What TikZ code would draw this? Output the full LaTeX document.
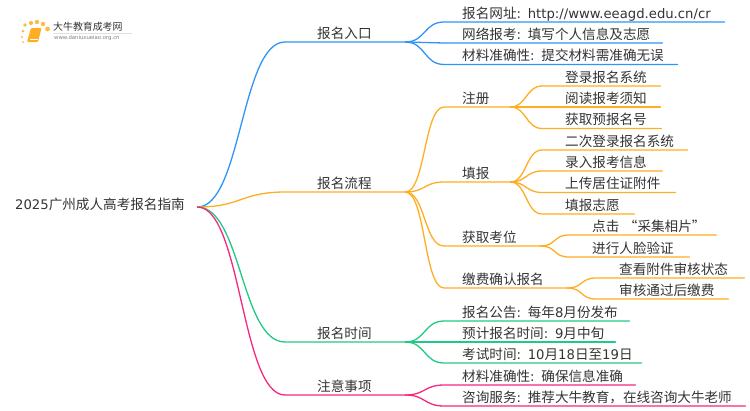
\documentclass[tikz,border=0pt]{standalone}
\usepackage{fontspec}
\setmainfont[Scale=0.97]{DejaVu Sans}
\newfontfamily\cjk{Noto Sans CJK SC}
\newcommand{\lat}[1]{{\rmfamily\spaceskip=0.2em #1}}
\definecolor{bluel}{HTML}{2E95F7}
\definecolor{orangel}{HTML}{FFAE22}
\definecolor{greenl}{HTML}{22C985}
\definecolor{pinkl}{HTML}{F5287F}
\definecolor{inkc}{HTML}{333333}
\tikzset{
    item/.style={anchor=south west, inner sep=0pt, text=inkc, align=left,
        text height=11pt, text depth=3.4pt, font=\cjk\fontsize{13.6}{15}\selectfont},
    branch/.style={line width=1.3pt, line cap=round}
}
\begin{document}
\begin{tikzpicture}[x=1pt, y=-1pt]
    \useasboundingbox (0,0) rectangle (750,410);
    % logo
    \foreach \x/\y/\r in {25/25/1.9, 31/23/2.1, 37/22/2.2, 43/24/2.2, 47.5/29/2.4, 23/31/1.5, 22/37/1.2, 23/42/1}
        \fill[orangel!85] (\x,\y) circle (\r);
    \fill[orangel, rounded corners=1pt] (31,28) -- (41.5,28) -- (38,42) -- (27,42) -- cycle;
    \draw[white, line width=0.5pt] (30,39.5) -- (38,39.5);
    \node[anchor=west, inner sep=0pt, text=inkc, font=\cjk\fontsize{9.9}{11}\selectfont] (logoname) at (53,27) {大牛教育成考网};
    \node[anchor=west, inner sep=0pt, text=gray, font=\fontsize{5.5}{6}\selectfont] (logourl) at (54,38.5) {www.daniuxueiao.org.cn};
    \draw[black!12, line width=0.4pt] (53,33.5) -- (132,33.5);
    % root
    \node[item, anchor=west, text width=182pt] (root) at (15,206) {\lat{2025}广州成人高考报名指南};
    % first level
    \node[item, text width=88pt] (entry) at (317,42) {报名入口};
    \node[item, text width=88pt] (steps) at (317,192) {报名流程};
    \node[item, text width=88pt] (dates) at (317,342) {报名时间};
    \node[item, text width=88pt] (notes) at (317,395) {注意事项};
    \foreach \n/\c in {entry/bluel, steps/orangel, dates/greenl, notes/pinkl}
        \draw[branch, \c] ([yshift=-1pt]root.east) .. controls +(44,0) and +(-44,0) .. ([xshift=-32pt]\n.south west) -- (\n.south east);
    % second level
    \foreach \p/\c/\n/\x/\y/\e/\g/\t in {
        entry/bluel/a1/462/22/724/18/{报名网址\lat{: http://www.eeagd.edu.cn/cr}},
        entry/bluel/a2/462/43/662/18/{网络报考\lat{: }填写个人信息及志愿},
        entry/bluel/a3/462/64.5/677/18/{材料准确性\lat{: }提交材料需准确无误},
        steps/orangel/b1/462/107/510/18/注册,
        steps/orangel/b2/462/182/510/18/填报,
        steps/orangel/b3/462/246/540/18/获取考位,
        steps/orangel/b4/462/288/567/18/缴费确认报名,
        b1/orangel/c1/565/86/660/23/登录报名系统,
        b1/orangel/c2/565/107/660/23/阅读报考须知,
        b1/orangel/c3/565/128.5/661/23/获取预报名号,
        b2/orangel/d1/565/150/687/23/二次登录报名系统,
        b2/orangel/d2/565/171/662/23/录入报考信息,
        b2/orangel/d3/565/192.5/675/23/上传居住证附件,
        b2/orangel/d4/565/214/634/23/填报志愿,
        b3/orangel/e1/592/235/716/23/{点击 “采集相片”},
        b3/orangel/e2/592/257/689/23/进行人脸验证,
        b4/orangel/f1/619/278/744/23/查看附件审核状态,
        b4/orangel/f2/619/299/728/23/审核通过后缴费,
        dates/greenl/g1/462/321/629/18/{报名公告\lat{: }每年\lat{8}月份发布},
        dates/greenl/g2/462/342/615/18/{预计报名时间\lat{: 9}月中旬},
        dates/greenl/g3/462/363/641/18/{考试时间\lat{: 10}月\lat{18}日至\lat{19}日},
        notes/pinkl/h1/462/385/635/18/{材料准确性\lat{: }确保信息准确},
        notes/pinkl/h2/462/406/745/18/{咨询服务\lat{: }推荐大牛教育，在线咨询大牛老师}}
    {
        \pgfmathsetmacro\w{\e-\x}
        \pgfmathsetmacro\k{\g>20 ? 16 : 20}
        \node[item, text width=\w pt] (\n) at (\x,\y) {\t};
        \draw[branch, \c] (\p.south east) .. controls +(\k,0) and +(-\k,0) .. ([xshift=-\g pt]\n.south west) -- (\n.south east);
    }
\end{tikzpicture}
\end{document}
